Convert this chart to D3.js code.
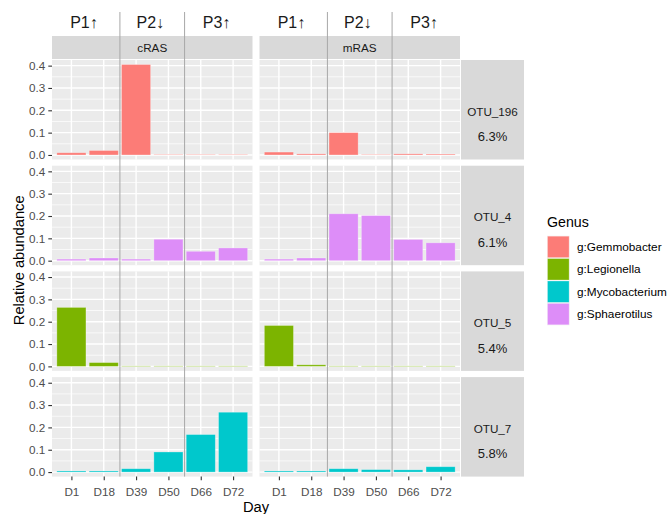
<!DOCTYPE html>
<html>
<head>
<meta charset="utf-8">
<script src="https://cdn.jsdelivr.net/npm/d3@7"></script>
<style>
  html, body { margin: 0; padding: 0; background: #ffffff; }
  svg { display: block; font-family: "Liberation Sans", Arial, sans-serif; }
</style>
</head>
<body>
<svg id="chart" width="667" height="514"></svg>
<script>
// ---- data ----
const days = ["D1", "D18", "D39", "D50", "D66", "D72"];
const reactors = ["cRAS", "mRAS"];
const otus = ["OTU_196", "OTU_4", "OTU_5", "OTU_7"];
const otuShare = ["6.3%", "6.1%", "5.4%", "5.8%"];
const otuGenus = ["g:Gemmobacter", "g:Sphaerotilus", "g:Legionella", "g:Mycobacterium"];
const genera = ["g:Gemmobacter", "g:Legionella", "g:Mycobacterium", "g:Sphaerotilus"];
const genusColors = ["#FC7C77", "#7CB400", "#00C8CC", "#DD8DF8"];
const phases = ["P1↑", "P2↓", "P3↑"];
const phaseBreaks = [["D1", "D18"], ["D39", "D50"], ["D66", "D72"]];
const yTicks = [0, 0.1, 0.2, 0.3, 0.4];
const yMinor = [0.05, 0.15, 0.25, 0.35];

// relative abundance per OTU, per reactor, per day
const cRAS_OTU_196 = [0.010, 0.020, 0.405, 0.002, 0.002, 0.002];
const mRAS_OTU_196 = [0.013, 0.005, 0.100, 0.002, 0.005, 0.004];
const cRAS_OTU_4   = [0.007, 0.012, 0.007, 0.096, 0.042, 0.057];
const mRAS_OTU_4   = [0.007, 0.012, 0.210, 0.202, 0.095, 0.080];
const cRAS_OTU_5   = [0.264, 0.017, 0.002, 0.002, 0.002, 0.002];
const mRAS_OTU_5   = [0.183, 0.007, 0.002, 0.002, 0.002, 0.002];
const cRAS_OTU_7   = [0.005, 0.005, 0.015, 0.090, 0.168, 0.268];
const mRAS_OTU_7   = [0.005, 0.005, 0.015, 0.011, 0.010, 0.024];

const values = {
  cRAS: [cRAS_OTU_196, cRAS_OTU_4, cRAS_OTU_5, cRAS_OTU_7],
  mRAS: [mRAS_OTU_196, mRAS_OTU_4, mRAS_OTU_5, mRAS_OTU_7]
};

// ---- layout ----
const svg = d3.select("#chart");
const panelLeft = [52, 259.5];
const panelW = 200.5;
const panelTop = 60;
const panelH = 99.5;
const rowGap = 6.2;
const stripTop = 36;
const rightStripX = 461, rightStripW = 63;

const color = d3.scaleOrdinal().domain(genera).range(genusColors);

// shared y domain with 5% expansion
const yMax = d3.max(reactors.flatMap(r => values[r].flat()));
const pad = yMax * 0.05;

const rowTop = i => panelTop + i * (panelH + rowGap);

reactors.forEach((r, ci) => {
  const x0 = panelLeft[ci];
  const x = d3.scalePoint().domain(days).range([x0, x0 + panelW]).padding(0.6);
  const bw = x.step() * 0.9;

  // top strip
  svg.append("rect").attr("x", x0).attr("y", stripTop)
    .attr("width", panelW).attr("height", panelTop - stripTop - 1)
    .attr("fill", "#D9D9D9");
  svg.append("text").attr("x", x0 + panelW / 2).attr("y", (stripTop + panelTop - 1) / 2)
    .attr("text-anchor", "middle").attr("dominant-baseline", "central")
    .attr("font-size", 11.7).attr("fill", "#1A1A1A").text(r);

  otus.forEach((o, ri) => {
    const top = rowTop(ri);
    const y = d3.scaleLinear().domain([-pad, yMax + pad]).range([top + panelH, top]);
    const g = svg.append("g");

    g.append("rect").attr("x", x0).attr("y", top).attr("width", panelW).attr("height", panelH)
      .attr("fill", "#EBEBEB");

    // grid
    g.selectAll(".minor").data(yMinor).join("line")
      .attr("x1", x0).attr("x2", x0 + panelW)
      .attr("y1", d => y(d)).attr("y2", d => y(d))
      .attr("stroke", "#ffffff").attr("stroke-width", 0.7);
    g.selectAll(".major").data(yTicks).join("line")
      .attr("x1", x0).attr("x2", x0 + panelW)
      .attr("y1", d => y(d)).attr("y2", d => y(d))
      .attr("stroke", "#ffffff").attr("stroke-width", 1.4);
    g.selectAll(".vmajor").data(days).join("line")
      .attr("x1", d => x(d)).attr("x2", d => x(d))
      .attr("y1", top).attr("y2", top + panelH)
      .attr("stroke", "#ffffff").attr("stroke-width", 1.4);

    // bars
    const vals = values[r][ri];
    g.selectAll(".bar").data(days.map((d, i) => ({ day: d, v: vals[i] }))).join("rect")
      .attr("x", d => x(d.day) - bw / 2).attr("width", bw)
      .attr("y", d => y(d.v)).attr("height", d => y(0) - y(d.v))
      .attr("fill", color(otuGenus[ri]))
      .attr("stroke", "#ffffff").attr("stroke-opacity", 0.35).attr("stroke-width", 0.8);

    // y axis on the left column
    if (ci === 0) {
      const ax = svg.append("g").attr("transform", `translate(${x0},0)`)
        .call(d3.axisLeft(y).tickValues(yTicks).tickFormat(d3.format(".1f")).tickSize(3.7).tickPadding(3));
      ax.select(".domain").remove();
      ax.selectAll(".tick line").attr("stroke", "#333333").attr("stroke-width", 1.1);
      ax.selectAll(".tick text").attr("font-size", 11.7).attr("fill", "#4D4D4D")
        .attr("font-family", "'Liberation Sans', Arial, sans-serif");
    }

    // right strip
    if (ci === 1) {
      svg.append("rect").attr("x", rightStripX).attr("y", top)
        .attr("width", rightStripW).attr("height", panelH).attr("fill", "#D9D9D9");
      const cx = rightStripX + rightStripW / 2;
      const cy = top + panelH / 2;
      svg.append("text").attr("x", cx).attr("y", cy + 1.5)
        .attr("text-anchor", "middle").attr("dominant-baseline", "central")
        .attr("font-size", 11.7).attr("fill", "#1A1A1A").text(o);
      svg.append("text").attr("x", cx).attr("y", cy + 27)
        .attr("text-anchor", "middle").attr("dominant-baseline", "central")
        .attr("font-size", 13).attr("fill", "#1A1A1A").text(otuShare[ri]);
    }
  });

  // x axis under bottom row
  const bottom = rowTop(otus.length - 1) + panelH;
  const xa = svg.append("g").attr("transform", `translate(0,${bottom})`)
    .call(d3.axisBottom(x).tickSize(3.7).tickPadding(7));
  xa.select(".domain").remove();
  xa.selectAll(".tick line").attr("stroke", "#333333").attr("stroke-width", 1.1);
  xa.selectAll(".tick text").attr("font-size", 11.7).attr("fill", "#4D4D4D")
    .attr("font-family", "'Liberation Sans', Arial, sans-serif");

  // phase labels and separators
  phaseBreaks.forEach((pb, pi) => {
    const a = pi === 0 ? x0 : (x(pb[0]) + x(phaseBreaks[pi - 1][1])) / 2;
    const b = pi === phaseBreaks.length - 1 ? x0 + panelW : (x(pb[1]) + x(phaseBreaks[pi + 1][0])) / 2;
    svg.append("text").attr("x", (a + b) / 2 - 2).attr("y", 22)
      .attr("text-anchor", "middle").attr("dominant-baseline", "central")
      .attr("font-size", 16).attr("fill", "#1A1A1A").text(phases[pi]);
    if (pi > 0) {
      svg.append("line").attr("x1", a).attr("x2", a).attr("y1", 12).attr("y2", bottom)
        .attr("stroke", "#A8A8A8").attr("stroke-width", 1);
    }
  });
});

// axis titles
const panelsMid = (rowTop(0) + rowTop(otus.length - 1) + panelH) / 2;
svg.append("text").attr("transform", `translate(19,${panelsMid - 8}) rotate(-90)`)
  .attr("text-anchor", "middle").attr("dominant-baseline", "central")
  .attr("font-size", 14.7).attr("fill", "#000000").text("Relative abundance");
svg.append("text").attr("x", (panelLeft[0] + panelLeft[1] + panelW) / 2).attr("y", 507)
  .attr("text-anchor", "middle").attr("dominant-baseline", "central")
  .attr("font-size", 14.7).attr("fill", "#000000").text("Day");

// legend
const lg = svg.append("g").attr("transform", "translate(547,0)");
lg.append("text").attr("x", 0).attr("y", 222).attr("dominant-baseline", "central")
  .attr("font-size", 14.2).attr("fill", "#000000").text("Genus");
const keyH = 22.4, keyW = 22.6, keyTop = 235.7;
genera.forEach((gname, i) => {
  lg.append("rect").attr("x", 0).attr("y", keyTop + i * keyH)
    .attr("width", keyW).attr("height", keyH).attr("fill", "#F2F2F2");
  lg.append("rect").attr("x", 0.5).attr("y", keyTop + i * keyH + 0.5)
    .attr("width", keyW - 1).attr("height", keyH - 1).attr("fill", color(gname))
    .attr("stroke", "#ffffff").attr("stroke-opacity", 0.35).attr("stroke-width", 0.8);
  lg.append("text").attr("x", 30).attr("y", keyTop + i * keyH + keyH / 2)
    .attr("dominant-baseline", "central").attr("font-size", 11.8).attr("fill", "#000000")
    .text(gname);
});
</script>
</body>
</html>
